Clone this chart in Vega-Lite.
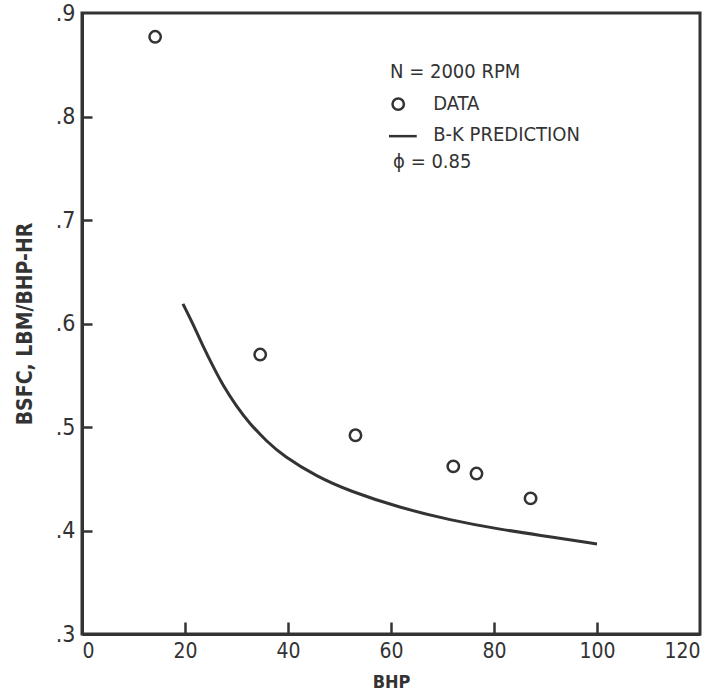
{
  "$schema": "https://vega.github.io/schema/vega-lite/v6.json",
  "width": 618,
  "height": 621,
  "autosize": {"type": "none"},
  "padding": {"left": 82, "top": 13, "right": 10, "bottom": 58},
  "background": "white",
  "config": {
    "view": {"stroke": "#333333", "strokeWidth": 3},
    "font": "DejaVu Sans Condensed",
    "axis": {
      "grid": false,
      "domainColor": "#333333",
      "domainWidth": 3,
      "tickColor": "#333333",
      "tickWidth": 2.5,
      "labelColor": "#333333",
      "titleColor": "#333333",
      "labelFont": "DejaVu Sans Condensed",
      "titleFont": "DejaVu Sans Condensed"
    }
  },
  "resolve": {"axis": {"x": "independent", "y": "independent"}},
  "datasets": {
    "data": [
      {"bhp": 14.2, "bsfc": 0.877},
      {"bhp": 34.6, "bsfc": 0.570},
      {"bhp": 53.1, "bsfc": 0.492},
      {"bhp": 72.1, "bsfc": 0.462},
      {"bhp": 76.6, "bsfc": 0.455},
      {"bhp": 87.1, "bsfc": 0.431}
    ],
    "pred": [
      {"bhp": 19.6, "bsfc": 0.619},
      {"bhp": 21.6, "bsfc": 0.599},
      {"bhp": 23.5, "bsfc": 0.578},
      {"bhp": 25.5, "bsfc": 0.558},
      {"bhp": 27.4, "bsfc": 0.540},
      {"bhp": 30.0, "bsfc": 0.520},
      {"bhp": 32.6, "bsfc": 0.503},
      {"bhp": 35.9, "bsfc": 0.486},
      {"bhp": 39.1, "bsfc": 0.472},
      {"bhp": 45.6, "bsfc": 0.452},
      {"bhp": 52.0, "bsfc": 0.438},
      {"bhp": 61.7, "bsfc": 0.422},
      {"bhp": 71.5, "bsfc": 0.410},
      {"bhp": 81.2, "bsfc": 0.401},
      {"bhp": 90.9, "bsfc": 0.394},
      {"bhp": 100.0, "bsfc": 0.387}
    ],
    "legendText": [
      {"x": 59.8, "y": 0.843, "label": "N = 2000 RPM"},
      {"x": 68.2, "y": 0.812, "label": "DATA"},
      {"x": 68.2, "y": 0.782, "label": "B-K PREDICTION"},
      {"x": 60.4, "y": 0.756, "label": "ϕ = 0.85"}
    ],
    "legendPoint": [{"x": 61.4, "y": 0.812}],
    "legendLine": [{"x": 59.6, "x2": 65.0, "y": 0.781}]
  },
  "layer": [
    {
      "data": {"name": "pred"},
      "mark": {"type": "line", "interpolate": "basis", "color": "#333333", "strokeWidth": 3},
      "encoding": {
        "x": {
          "field": "bhp", "type": "quantitative",
          "scale": {"domain": [0, 120], "nice": false},
          "axis": {
            "title": "BHP", "values": [0, 20, 40, 60, 80, 100, 120],
            "ticks": false,
            "labelPadding": 6, "labelFontSize": 21,
            "titleFontSize": 18, "titleFontWeight": "bold", "titlePadding": 12
          }
        },
        "y": {
          "field": "bsfc", "type": "quantitative",
          "scale": {"domain": [0.3, 0.9], "nice": false},
          "axis": {
            "title": "BSFC,  LBM/BHP-HR", "values": [0.3, 0.4, 0.5, 0.6, 0.7, 0.8, 0.9],
            "labelExpr": "substring(format(datum.value, '.1f'), 1)",
            "ticks": false,
            "labelPadding": 7, "labelFontSize": 23,
            "titleFontSize": 21, "titleFontWeight": "bold", "titlePadding": 20
          }
        }
      }
    },
    {
      "data": {"name": "data"},
      "mark": {"type": "point", "shape": "circle", "filled": false, "color": "#333333", "strokeWidth": 2.5, "size": 130, "opacity": 1},
      "encoding": {
        "x": {
          "field": "bhp", "type": "quantitative",
          "axis": {
            "orient": "top", "offset": -621, "values": [20, 40, 60, 80, 100],
            "labels": false, "domain": false, "title": null,
            "ticks": true, "tickSize": 12
          }
        },
        "y": {
          "field": "bsfc", "type": "quantitative",
          "axis": {
            "orient": "right", "offset": -618, "values": [0.4, 0.5, 0.6, 0.7, 0.8],
            "labels": false, "domain": false, "title": null,
            "ticks": true, "tickSize": 10
          }
        }
      }
    },
    {
      "data": {"name": "legendText"},
      "mark": {"type": "text", "align": "left", "baseline": "middle", "fontSize": 20, "color": "#333333"},
      "encoding": {
        "x": {"field": "x", "type": "quantitative", "axis": null},
        "y": {"field": "y", "type": "quantitative", "axis": null},
        "text": {"field": "label"}
      }
    },
    {
      "data": {"name": "legendPoint"},
      "mark": {"type": "point", "shape": "circle", "filled": false, "color": "#333333", "strokeWidth": 2.5, "size": 130, "opacity": 1},
      "encoding": {
        "x": {"field": "x", "type": "quantitative", "axis": null},
        "y": {"field": "y", "type": "quantitative", "axis": null}
      }
    },
    {
      "data": {"name": "legendLine"},
      "mark": {"type": "rule", "color": "#333333", "strokeWidth": 2.5},
      "encoding": {
        "x": {"field": "x", "type": "quantitative", "axis": null},
        "x2": {"field": "x2"},
        "y": {"field": "y", "type": "quantitative", "axis": null}
      }
    }
  ]
}
